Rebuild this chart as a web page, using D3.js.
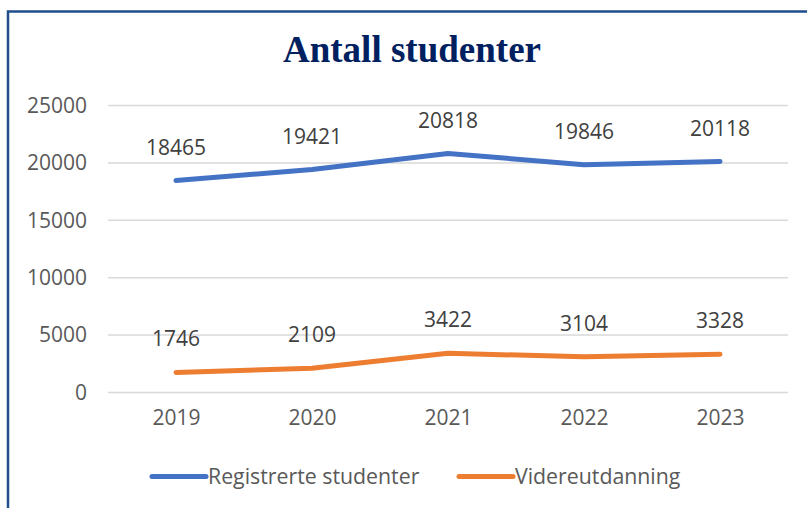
<!DOCTYPE html>
<html>
<head>
<meta charset="utf-8">
<script src="https://cdn.jsdelivr.net/npm/d3@7"></script>
<style>
    body { margin: 0; background: #fff; }
    svg { display: block; }
</style>
</head>
<body>
<div id="chart"></div>
<script>
const years = ["2019", "2020", "2021", "2022", "2023"];
const registrerte = [18465, 19421, 20818, 19846, 20118];
const videre = [1746, 2109, 3422, 3104, 3328];
const yTicks = [0, 5000, 10000, 15000, 20000, 25000];
const seriesNames = ["Registrerte studenter", "Videreutdanning"];

const width = 807, height = 508;
const font = "'Open Sans', sans-serif";

const svg = d3.select("#chart").append("svg")
    .attr("width", width)
    .attr("height", height);

// chart frame (only top and left edges visible)
svg.append("path")
    .attr("d", `M8,${height} V11.5 H${width}`)
    .attr("fill", "none")
    .attr("stroke", "#1F4E8C")
    .attr("stroke-width", 2.5);

svg.append("text")
    .attr("x", 412)
    .attr("y", 62)
    .attr("text-anchor", "middle")
    .style("font-family", "'Liberation Serif', 'Times New Roman', serif")
    .style("font-weight", "bold")
    .style("font-size", "37px")
    .style("fill", "#002060")
    .text("Antall studenter");

const x = d3.scalePoint()
    .domain(years)
    .range([108, 788])
    .padding(0.5);

const y = d3.scaleLinear()
    .domain([0, 25000])
    .range([392.5, 105.5]);

// gridlines
svg.append("g")
    .selectAll("line")
    .data(yTicks)
    .join("line")
    .attr("x1", 108)
    .attr("x2", 788)
    .attr("y1", d => y(d))
    .attr("y2", d => y(d))
    .attr("stroke", "#d9d9d9")
    .attr("stroke-width", 1.5);

const yAxis = svg.append("g")
    .attr("transform", "translate(108,0)")
    .call(d3.axisLeft(y).tickValues(yTicks).tickSize(0).tickPadding(21).tickFormat(d3.format("d")));
yAxis.select(".domain").remove();
yAxis.selectAll("text")
    .style("font-family", font)
    .style("font-size", "21px")
    .style("fill", "#595959");

const xAxis = svg.append("g")
    .attr("transform", "translate(0,392.5)")
    .call(d3.axisBottom(x).tickSize(0).tickPadding(18));
xAxis.select(".domain").remove();
xAxis.selectAll("text")
    .style("font-family", font)
    .style("font-size", "21px")
    .style("fill", "#595959");

const series = [
    { name: seriesNames[0], values: registrerte, color: "#4472C4" },
    { name: seriesNames[1], values: videre, color: "#ED7D31" }
];

const line = d3.line()
    .x((d, i) => x(years[i]))
    .y(d => y(d));

series.forEach(s => {
    svg.append("path")
        .datum(s.values)
        .attr("d", line)
        .attr("fill", "none")
        .attr("stroke", s.color)
        .attr("stroke-width", 5)
        .attr("stroke-linecap", "round")
        .attr("stroke-linejoin", "round");

    svg.append("g")
        .selectAll("text")
        .data(s.values)
        .join("text")
        .attr("x", (d, i) => x(years[i]))
        .attr("y", d => y(d) - 26)
        .attr("text-anchor", "middle")
        .style("font-family", font)
        .style("font-size", "21px")
        .style("fill", "#404040")
        .text(d => d);
});

// legend
const legendX = [152, 459];
const legend = svg.append("g");
series.forEach((s, i) => {
    legend.append("line")
        .attr("x1", legendX[i])
        .attr("x2", legendX[i] + 54)
        .attr("y1", 476.5)
        .attr("y2", 476.5)
        .attr("stroke", s.color)
        .attr("stroke-width", 5)
        .attr("stroke-linecap", "round");
    legend.append("text")
        .attr("x", legendX[i] + 56)
        .attr("y", 484)
        .style("font-family", font)
        .style("font-size", "21.3px")
        .style("fill", "#595959")
        .text(s.name);
});
</script>
</body>
</html>
